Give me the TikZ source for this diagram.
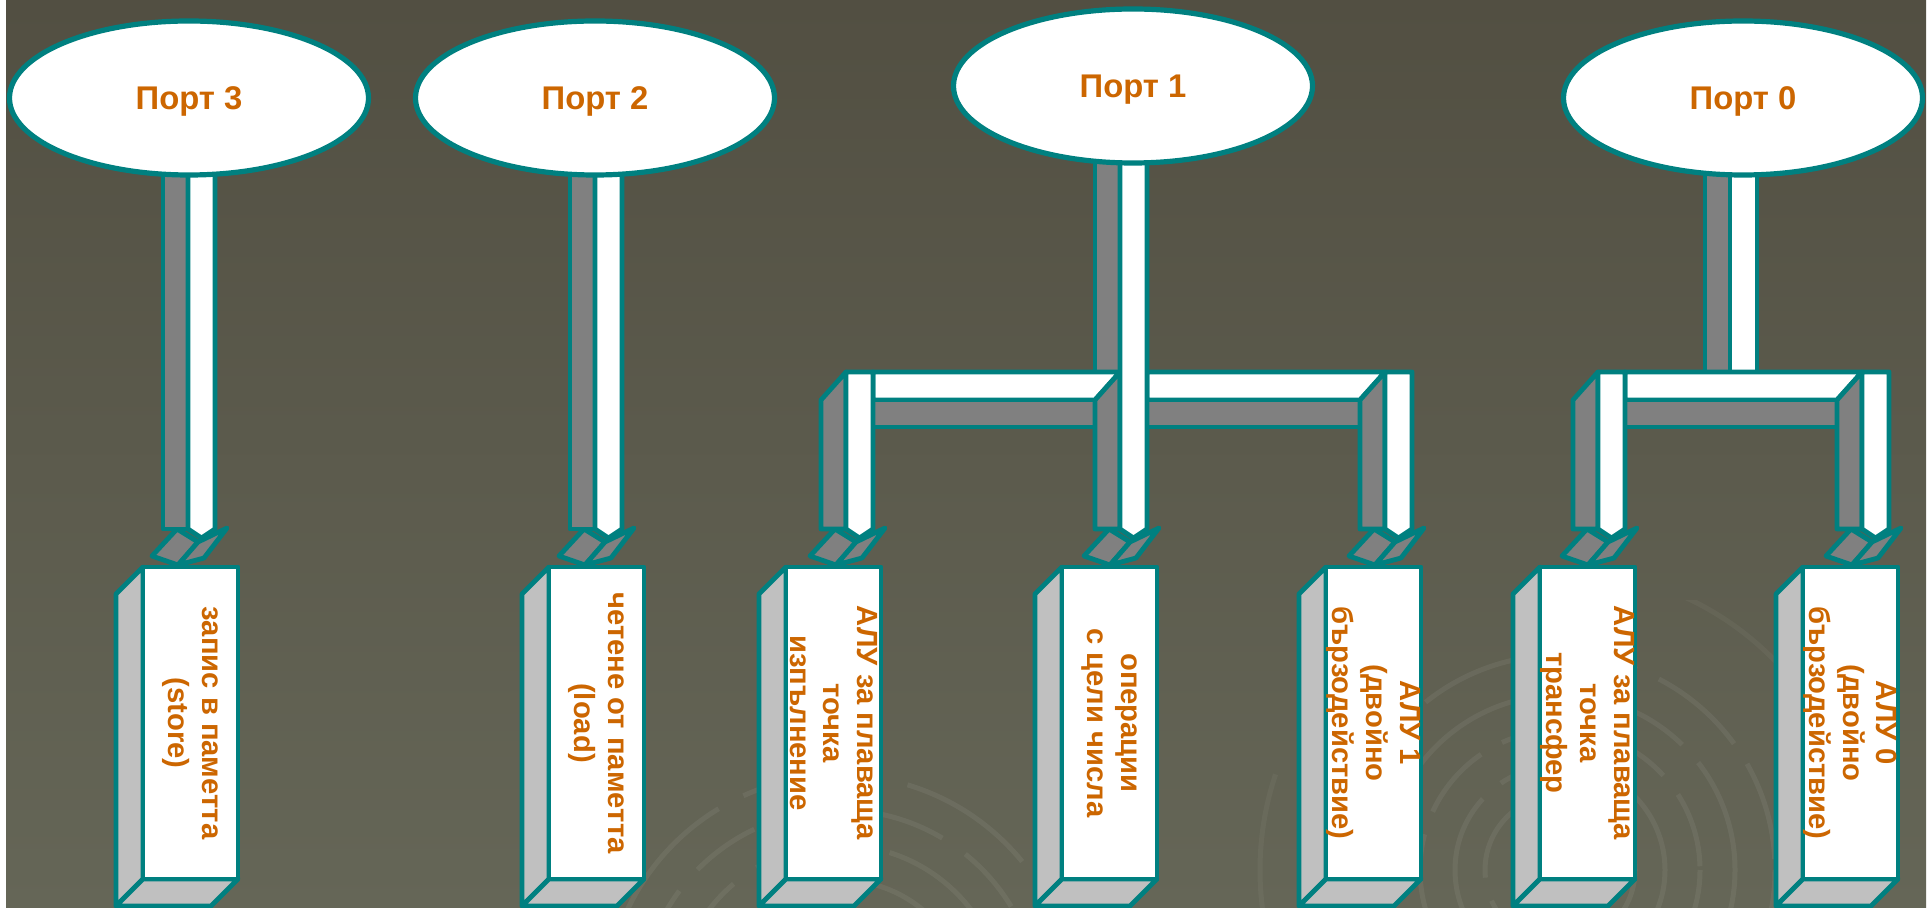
\documentclass[tikz,border=0pt]{standalone}
\usepackage{fontspec}
\setmainfont{Liberation Sans}
\usetikzlibrary{shapes.geometric}
\definecolor{tealc}{HTML}{008080}
\definecolor{orangec}{HTML}{CC6600}
\definecolor{pipegray}{HTML}{808080}
\definecolor{sidegray}{HTML}{C0C0C0}
\definecolor{bgtop}{HTML}{524F42}
\definecolor{bgmid}{HTML}{565445}
\definecolor{bgbot}{HTML}{656657}
% arrow head below a pipe whose left edge is #1
\newcommand\arrowhd[1]{%
  \draw[grayface] ({#1-11},556) -- ({#1+14},529) -- ({#1+35},542) -- ({#1+15},565) -- cycle;
  \draw[grayface] ({#1+35},542) -- ({#1+64},528) -- ({#1+41},558) -- ({#1+15},565) -- cycle;}
% straight pipe from #2 down to the arrow
\newcommand\fullpipe[2]{%
  \draw[grayface] (#1,#2) rectangle ({#1+25},529);
  \draw[whiteface] ({#1+25},#2) -- ({#1+52},#2) -- ({#1+52},529) -- ({#1+38.5},538) -- ({#1+25},529) -- cycle;}
% pipe from a port down to a bar
\newcommand\toppipe[2]{%
  \draw[grayface] (#1,#2) rectangle ({#1+25},372);
  \draw[whiteface] ({#1+25},#2) rectangle ({#1+52},372);}
% branch pipe leaving a bar
\newcommand\brgray[1]{%
  \draw[grayface] (#1,529) -- (#1,400) -- ({#1+25},372) -- ({#1+25},529) -- cycle;}
\newcommand\brwhite[1]{%
  \draw[whiteface] ({#1+25},372) -- ({#1+52},372) -- ({#1+52},529) -- ({#1+38.5},538) -- ({#1+25},529) -- cycle;}
% horizontal bar between branch pipes #1 and #2
\newcommand\bandseg[2]{%
  \draw[whiteface] ({#1+52},372) -- ({#2+25},372) -- (#2,400) -- ({#1+52},400) -- cycle;
  \draw[grayface] ({#1+52},400) -- (#2,400) -- (#2,427) -- ({#1+52},427) -- cycle;}
% execution unit box with front left edge #1
\newcommand\cpuunit[3]{%
  \draw[sideface] (#1,567) -- ({#1-27},594) -- ({#1-27},906) -- (#1,879) -- cycle;
  \draw[sideface] (#1,879) -- ({#1+95},879) -- ({#1+68},906) -- ({#1-27},906) -- cycle;
  \draw[whiteface] (#1,567) rectangle ({#1+95},879);
  \node[unitlabel] (#2) at ({#1+47.5},723) {#3};}
\begin{document}
\begin{tikzpicture}[x=0.5pt,y=-0.5pt,
  tl/.style={draw=tealc,line width=2.4pt,line join=round},
  grayface/.style={tl,fill=pipegray},
  whiteface/.style={tl,fill=white},
  sideface/.style={tl,fill=sidegray},
  port/.style={ellipse,draw=tealc,line width=2.6pt,fill=white,
    minimum width=179.5pt,minimum height=77pt,inner sep=0pt,text depth=0pt,
    text=orangec,font=\bfseries\fontsize{16.4}{19}\selectfont},
  unitlabel/.style={rotate=-90,align=center,text=orangec,inner sep=0pt,
    font=\bfseries\fontsize{14.6}{16.8}\selectfont},
  swirl/.style={draw=white,opacity=0.06,line width=2.5pt}]
\useasboundingbox (0,0) rectangle (1931,908);
\fill[white] (0,0) rectangle (1931,908);
\shade[top color=bgtop,middle color=bgmid,bottom color=bgbot] (6,0) rectangle (1926,908);
\begin{scope}
  \clip (6,600) rectangle (1926,908);
  \foreach \r/\d in {45/30,75/45,105/60,140/38,175/70,215/50}
    \draw[swirl,dash pattern=on \d pt off 12pt] (1560,870) circle (\r);
  \draw[swirl,opacity=0.04,dash pattern=on 80pt off 30pt] (1560,870) circle (300);
  \foreach \r/\d in {130/40,165/55,200/35,235/70}
    \draw[swirl,dash pattern=on \d pt off 14pt] (840,1010) circle (\r);
\end{scope}
% execution units
\cpuunit{143}{u1}{запис в паметта\\(store)}
\cpuunit{549}{u2}{четене от паметта\\(load)}
\cpuunit{786}{u3}{АЛУ за плаваща\\точка\\изпълнение}
\cpuunit{1062}{u4}{операции\\с цели числа}
\cpuunit{1326}{u5}{АЛУ 1\\(двойно\\бързодействие)}
\cpuunit{1540}{u6}{АЛУ за плаваща\\точка\\трансфер}
\cpuunit{1803}{u7}{АЛУ 0\\(двойно\\бързодействие)}
% arrow heads
\arrowhd{163}\arrowhd{570}\arrowhd{821}\arrowhd{1095}\arrowhd{1360}\arrowhd{1573}\arrowhd{1837}
% port 3 and port 2
\fullpipe{163}{150}
\fullpipe{570}{150}
% port 1
\draw[grayface] (1095,140) rectangle (1120,372);
\bandseg{821}{1095}
\bandseg{1095}{1360}
\brgray{821}\brgray{1095}\brgray{1360}
\brwhite{821}\brwhite{1360}
\draw[whiteface] (1120,140) -- (1147,140) -- (1147,529) -- (1133.5,538) -- (1120,529) -- cycle;
% port 0
\toppipe{1705}{150}
\bandseg{1573}{1837}
\brgray{1573}\brgray{1837}
\brwhite{1573}\brwhite{1837}
% ports
\node[port] (p3) at (189,98) {Порт 3};
\node[port] (p2) at (595,98) {Порт 2};
\node[port] (p1) at (1133,86) {Порт 1};
\node[port] (p0) at (1743,98) {Порт 0};
\end{tikzpicture}
\end{document}
